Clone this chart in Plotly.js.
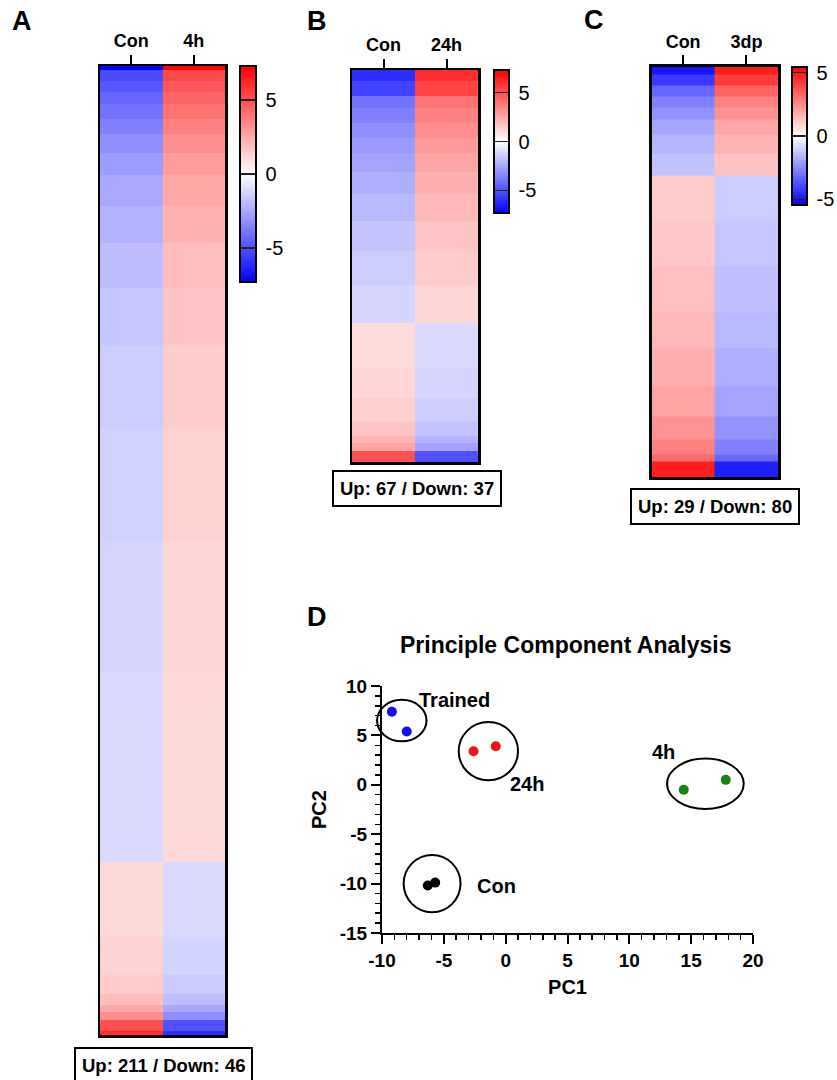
<!DOCTYPE html>
<html>
<head>
<meta charset="utf-8">
<script src="https://cdn.plot.ly/plotly-3.0.1.min.js"></script>
<style>html,body{margin:0;padding:0;background:#fff;}#chart{width:837px;height:1080px;}</style>
</head>
<body>
<div id="chart"></div>
<script>
// ---------------- DATA ----------------
// Heatmap A (Con vs 4h): bands of genes (count of genes per band) and values
const A_cats = ['Con', '4h'];
const A_counts = [1,3,3,3,4,4,5,6,8,10,12,15,22,30,35,50, 20,10,5,3,2,2,3,1];
const A_con = [-7.2,-5.2,-4.8,-4.4,-4.0,-3.6,-3.2,-2.8,-2.5,-2.2,-1.9,-1.65,-1.45,-1.3,-1.2,-1.1, 1.1,1.25,1.5,1.9,2.5,3.2,5.0,6.0];
const A_trt = [7.2,5.2,4.8,4.4,4.0,3.6,3.2,2.8,2.5,2.2,1.9,1.65,1.45,1.3,1.2,1.1, -1.1,-1.25,-1.5,-1.9,-2.5,-3.2,-5.0,-6.0];
const A_label = 'Up: 211 / Down: 46';

// Heatmap B (Con vs 24h)
const B_cats = ['Con', '24h'];
const B_counts = [3,4,3,4,4,4,5,6,7,8,9,10, 12,8,6,4,2,2,3];
const B_con = [-6.0,-5.4,-4.0,-3.6,-3.2,-2.9,-2.6,-2.3,-2.0,-1.7,-1.45,-1.2, 1.05,1.2,1.4,1.7,2.1,2.6,5.0];
const B_trt = [6.0,5.4,4.0,3.6,3.2,2.9,2.6,2.3,2.0,1.7,1.45,1.2, -1.05,-1.2,-1.4,-1.7,-2.1,-2.6,-5.0];
const B_label = 'Up: 67 / Down: 37';

// Heatmap C (Con vs 3dp)
const C_cats = ['Con', '3dp'];
const C_counts = [2,3,3,3,3,4,5,6, 12,12,12,10,10,8,6,4,2,4];
const C_con = [-5.0,-4.2,-3.3,-2.7,-2.3,-1.9,-1.6,-1.3, 1.1,1.2,1.35,1.5,1.7,1.95,2.3,2.7,3.2,4.8];
const C_trt = [4.8,4.2,3.3,2.7,2.3,1.9,1.6,1.3, -1.1,-1.2,-1.35,-1.5,-1.7,-1.95,-2.3,-2.7,-3.2,-4.8];
const C_label = 'Up: 29 / Down: 80';

const colorTicks = [-5, 0, 5];
const colorTickText = ['-5', '0', '5'];

// PCA
const pcaTitle = 'Principle Component Analysis';
const grpNames = ['Trained', '24h', 'Con', '4h'];
const trained_x = [-9.2, -8.0], trained_y = [7.4, 5.4];
const h24_x = [-2.6, -0.8],     h24_y = [3.4, 3.9];
const con_x = [-6.3, -5.7],     con_y = [-10.2, -9.9];
const h4_x = [14.4, 17.8],      h4_y = [-0.5, 0.5];
// group ellipses: centre x, centre y, radius x, radius y
const ell_cx = [-8.4, -1.4, -5.95, 16.15];
const ell_cy = [6.5, 3.4, -10.0, 0.1];
const ell_rx = [2.0, 2.4, 2.3, 3.1];
const ell_ry = [2.1, 2.95, 2.9, 2.55];
// group label positions
const lab_x = [-4.1, 1.7, -0.75, 12.8];
const lab_y = [8.55, 0.05, -10.2, 3.3];
const pcX_ticks = [-10, -5, 0, 5, 10, 15, 20];
const pcX_text = ['-10', '-5', '0', '5', '10', '15', '20'];
const pcY_ticks = [-15, -10, -5, 0, 5, 10];
const pcY_text = ['-15', '-10', '-5', '0', '5', '10'];

// ---------------- LAYOUT HELPERS ----------------
const W = 837, H = 1080;
const FONT = 'Liberation Sans, Arial, Helvetica, sans-serif';
const px = v => v / W;
const py = v => 1 - v / H;
const colorscale = [[0, 'rgb(0,0,255)'], [0.5, 'rgb(255,255,255)'], [1, 'rgb(255,0,0)']];

function heat(counts, con, trt, cats, xa, ya, zmax, cb) {
  const edges = [0];
  counts.forEach(c => edges.push(edges[edges.length - 1] + c));
  const z = con.map((v, i) => [v, trt[i]]);
  return {
    type: 'heatmap', x: cats, y: edges, z: z, xaxis: xa, yaxis: ya,
    zmin: -zmax, zmax: zmax, colorscale: colorscale, zsmooth: false,
    hoverinfo: 'skip',
    colorbar: {
      x: px(cb.left), xanchor: 'left', xpad: 0, y: py(cb.top), yanchor: 'top', ypad: 0,
      len: (cb.bot - cb.top) / H, lenmode: 'fraction', thickness: cb.thickness, thicknessmode: 'pixels',
      outlinewidth: 2, outlinecolor: 'black',
      tickmode: 'array', tickvals: colorTicks,
      ticktext: colorTickText.map(t => '\u2009' + t),
      ticks: 'inside', ticklen: cb.thickness, tickwidth: 1.5, tickcolor: '#222',
      tickfont: {family: FONT, size: 20, color: 'black'}
    }
  };
}

function total(a) { return a.reduce((s, v) => s + v, 0); }

function heatAxes(n, x0, x1, y0, y1, N) {
  const o = {};
  o['xaxis' + n] = {
    domain: [px(x0), px(x1)], anchor: 'y' + n, side: 'top', type: 'category',
    range: [-0.5, 1.5], showline: true, mirror: true, linewidth: 2.5, linecolor: 'black',
    ticks: 'outside', ticklen: 9, tickwidth: 2, tickcolor: 'black', showgrid: false, zeroline: false,
    tickfont: {family: FONT, size: 18, color: 'black', weight: 'bold'}, fixedrange: true, automargin: false
  };
  o['yaxis' + n] = {
    domain: [py(y1), py(y0)], anchor: 'x' + n, range: [N, 0],
    showline: true, mirror: true, linewidth: 2.5, linecolor: 'black',
    showticklabels: false, ticks: '', showgrid: false, zeroline: false, fixedrange: true, automargin: false
  };
  return o;
}

const data = [
  heat(A_counts, A_con, A_trt, A_cats, 'x', 'y', 7.3, {left: 240, top: 66, bot: 282, thickness: 16}),
  heat(B_counts, B_con, B_trt, B_cats, 'x2', 'y2', 7.3, {left: 494, top: 70, bot: 213, thickness: 15}),
  heat(C_counts, C_con, C_trt, C_cats, 'x3', 'y3', 5.45, {left: 792, top: 67, bot: 205, thickness: 15}),
];

const grpX = [trained_x, h24_x, con_x, h4_x];
const grpY = [trained_y, h24_y, con_y, h4_y];
const grpCol = ['rgb(15,15,240)', 'rgb(240,20,20)', 'rgb(0,0,0)', 'rgb(25,130,25)'];
grpNames.forEach((g, i) => {
  data.push({
    type: 'scatter', mode: 'markers', name: g, x: grpX[i], y: grpY[i],
    xaxis: 'x4', yaxis: 'y4', marker: {size: 10, color: grpCol[i]}, hoverinfo: 'name'
  });
});

const xr = [-10, 20], yr = [-15, 10];
const fx = v => (v - xr[0]) / (xr[1] - xr[0]);
const fy = v => (v - yr[0]) / (yr[1] - yr[0]);

const shapes = ell_cx.map((cx, i) => ({
  type: 'circle', xref: 'x4 domain', yref: 'y4 domain',
  x0: fx(cx - ell_rx[i]), x1: fx(cx + ell_rx[i]),
  y0: fy(ell_cy[i] - ell_ry[i]), y1: fy(ell_cy[i] + ell_ry[i]),
  line: {color: 'black', width: 2}, layer: 'above'
}));

const annotations = [];
function letter(t, x, y) {
  annotations.push({xref: 'paper', yref: 'paper', x: px(x), y: py(y), text: t, showarrow: false,
    xanchor: 'center', yanchor: 'middle', font: {family: FONT, size: 27, color: 'black', weight: 'bold'}});
}
letter('A', 22, 21); letter('B', 317, 21); letter('C', 594, 20); letter('D', 317, 617);

function boxLabel(t, x, y) {
  annotations.push({xref: 'paper', yref: 'paper', x: px(x), y: py(y), text: t, showarrow: false,
    xanchor: 'center', yanchor: 'middle', bordercolor: 'black', borderwidth: 2, borderpad: 6, bgcolor: 'white',
    font: {family: FONT, size: 18.5, color: 'black', weight: 'bold'}});
}
boxLabel(A_label, 163.5, 1065); boxLabel(B_label, 416.5, 488); boxLabel(C_label, 714.5, 506);

annotations.push({xref: 'paper', yref: 'paper', x: px(565), y: py(645), text: pcaTitle, showarrow: false,
  xanchor: 'center', yanchor: 'middle', font: {family: FONT, size: 23, color: 'black', weight: 'bold'}});

grpNames.forEach((g, i) => {
  annotations.push({xref: 'x4', yref: 'y4', x: lab_x[i], y: lab_y[i], text: g, showarrow: false,
    xanchor: 'center', yanchor: 'middle', font: {family: FONT, size: 20, color: 'black', weight: 'bold'}});
});

const axFont = {family: FONT, size: 19, color: 'black', weight: 'bold'};
const ttlFont = {family: FONT, size: 20, color: 'black', weight: 'bold'};
const layout = Object.assign({
  width: W, height: H, margin: {l: 0, r: 0, t: 0, b: 0, autoexpand: false},
  paper_bgcolor: 'white', plot_bgcolor: 'rgba(0,0,0,0)', showlegend: false,
  font: {family: FONT, color: 'black'},
  xaxis4: {
    domain: [px(382), px(753)], anchor: 'y4', range: xr,
    tickmode: 'array', tickvals: pcX_ticks, ticktext: pcX_text,
    ticks: 'outside', ticklen: 9, tickwidth: 2, tickcolor: 'black',
    minor: {tickmode: 'linear', tick0: 0, dtick: 1, ticks: 'outside', ticklen: 5, tickwidth: 1.5, tickcolor: 'black', showgrid: false},
    showline: true, linewidth: 2, linecolor: 'black', showgrid: false, zeroline: false, automargin: false,
    tickfont: axFont, title: {text: 'PC1', font: ttlFont, standoff: 10}
  },
  yaxis4: {
    domain: [py(933), py(686)], anchor: 'x4', range: yr,
    tickmode: 'array', tickvals: pcY_ticks, ticktext: pcY_text,
    ticks: 'outside', ticklen: 9, tickwidth: 2, tickcolor: 'black',
    minor: {tickmode: 'linear', tick0: 0, dtick: 1, ticks: 'outside', ticklen: 5, tickwidth: 1.5, tickcolor: 'black', showgrid: false},
    showline: true, linewidth: 2, linecolor: 'black', showgrid: false, zeroline: false, automargin: false,
    tickfont: axFont, title: {text: 'PC2', font: ttlFont, standoff: 8}
  },
  shapes: shapes,
  annotations: annotations
},
  heatAxes('', 100, 225, 66, 1035, total(A_counts)),
  heatAxes(2, 352, 478, 70, 462, total(B_counts)),
  heatAxes(3, 651.5, 778, 66.5, 477, total(C_counts))
);

Plotly.newPlot('chart', data, layout, {displayModeBar: false, staticPlot: true});
</script>
</body>
</html>
